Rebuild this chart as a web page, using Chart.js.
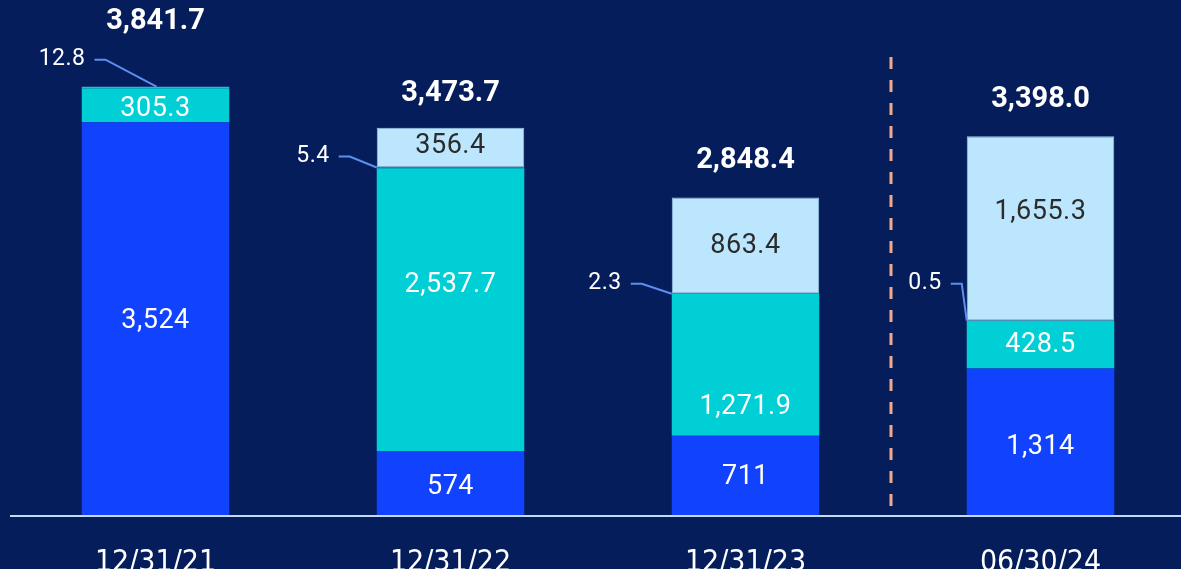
<!DOCTYPE html>
<html><head><meta charset="utf-8">
<script src="https://cdn.jsdelivr.net/npm/chart.js@4.4.1/dist/chart.umd.min.js"></script>
<style>
html,body{margin:0;padding:0;background:#051e5b;overflow:hidden;width:1181px;height:569px;}
#wrap{position:absolute;left:0;top:0;width:1190px;height:569px;}
</style></head>
<body><div id="wrap"><canvas id="c" width="1190" height="569"></canvas></div>
<script>
const categories = ['12/31/21', '12/31/22', '12/31/23', '06/30/24'];
const seriesBase = [3524, 574, 711, 1314];
const seriesMid = [305.3, 2537.7, 1271.9, 428.5];
const seriesSmall = [12.8, 5.4, 2.3, 0.5];
const seriesTop = [0, 356.4, 863.4, 1655.3];
const totals = [3841.7, 3473.7, 2848.4, 3398.0];

const fmt0 = v => v.toLocaleString('en-US', {maximumFractionDigits: 0});
const fmt1 = v => v.toLocaleString('en-US', {minimumFractionDigits: 1, maximumFractionDigits: 1});

// label style tweaks (pixel offsets from segment centre)
const labelShift = {0: [3, 4, 2, 5], 1: [4, -24, 42, 1], 3: [0, -1, 1, -16]};
const totalShift = [-65, -34, -37, -36];
const callouts = [
  {anchor: 'center', lx: -71, ly: -27},
  {anchor: 'left', lx: -47, ly: -11},
  {anchor: 'left', lx: -50, ly: -10},
  {anchor: 'left', lx: -25, ly: -37}
];

const labelPlugin = {
  id: 'labels',
  afterDatasetsDraw(chart) {
    const ctx = chart.ctx;
    const ca = chart.chartArea;
    ctx.save();
    // axis line
    ctx.strokeStyle = '#c4daf7';
    ctx.lineWidth = 2;
    ctx.beginPath();
    ctx.moveTo(10, ca.bottom + 1);
    ctx.lineTo(1190, ca.bottom + 1);
    ctx.stroke();
    // dashed separator
    const m3 = chart.getDatasetMeta(0).data;
    const sepX = (m3[2].x + m3[3].x) / 2 - 2;
    ctx.strokeStyle = '#f2a98c';
    ctx.lineWidth = 3;
    ctx.setLineDash([12, 11]);
    ctx.beginPath();
    ctx.moveTo(sepX, 57);
    ctx.lineTo(sepX, ca.bottom);
    ctx.stroke();
    ctx.setLineDash([]);

    ctx.textAlign = 'center';
    ctx.textBaseline = 'middle';
    // segment labels
    [0, 1, 3].forEach(di => {
      const ds = chart.data.datasets[di];
      const meta = chart.getDatasetMeta(di);
      meta.data.forEach((el, i) => {
        const v = ds.data[i];
        if (!v) return;
        const txt = di === 0 ? fmt0(v) : fmt1(v);
        ctx.font = '400 27px Roboto, "Noto Sans", sans-serif';
        ctx.letterSpacing = '0.5px';
        ctx.fillStyle = di === 3 ? '#2b2b2b' : '#ffffff';
        ctx.fillText(txt, el.x, (el.y + el.base) / 2 + labelShift[di][i]);
      });
    });
    // totals
    const topMeta = chart.getDatasetMeta(3).data;
    ctx.font = '700 29px Roboto, "Noto Sans", sans-serif';
    ctx.letterSpacing = '0px';
    ctx.fillStyle = '#ffffff';
    topMeta.forEach((el, i) => {
      ctx.fillText(fmt1(totals[i]), el.x, el.y + totalShift[i]);
    });
    // callouts for small segment
    const smallMeta = chart.getDatasetMeta(2).data;
    smallMeta.forEach((el, i) => {
      const c = callouts[i];
      const halfW = el.width / 2;
      const ex = c.anchor === 'center' ? el.x + 1 : el.x - halfW;
      const ey = el.y;
      const lr = ex + c.lx;
      const ly = ey + c.ly;
      ctx.font = '400 23px Roboto, "Noto Sans", sans-serif';
      ctx.letterSpacing = '0.5px';
      ctx.fillStyle = '#ffffff';
      ctx.textAlign = 'right';
      ctx.fillText(fmt1(seriesSmall[i]), lr, ly);
      ctx.strokeStyle = '#5d8ff0';
      ctx.lineWidth = 2;
      ctx.beginPath();
      ctx.moveTo(lr + 9, ly);
      ctx.lineTo(lr + 20, ly);
      ctx.lineTo(ex, ey);
      ctx.stroke();
    });
    ctx.restore();
  }
};

new Chart(document.getElementById('c'), {
  type: 'bar',
  data: {
    labels: categories,
    datasets: [
      {data: seriesBase, backgroundColor: '#1142fe'},
      {data: seriesMid, backgroundColor: '#00cfd6'},
      {data: seriesSmall, backgroundColor: '#4aa8d8'},
      {data: seriesTop, backgroundColor: '#bce6fd', borderColor: '#9fc9e6', borderWidth: 1}
    ]
  },
  options: {
    responsive: false,
    animation: false,
    devicePixelRatio: 1,
    layout: {padding: {left: 8, right: 2, top: 0, bottom: 0}},
    datasets: {bar: {barPercentage: 0.5, categoryPercentage: 1.0, borderSkipped: false}},
    plugins: {legend: {display: false}, tooltip: {enabled: false}},
    scales: {
      x: {
        stacked: true,
        grid: {display: false},
        border: {display: false},
        ticks: {
          color: '#ffffff',
          font: {family: '"Liberation Sans Narrow", "DejaVu Sans Condensed", sans-serif', size: 30},
          padding: 22,
          maxRotation: 0
        },
        afterFit(scale) { scale.height = 54; }
      },
      y: {stacked: true, display: false, min: 0, max: 4620}
    }
  },
  plugins: [labelPlugin]
});
</script></body></html>
